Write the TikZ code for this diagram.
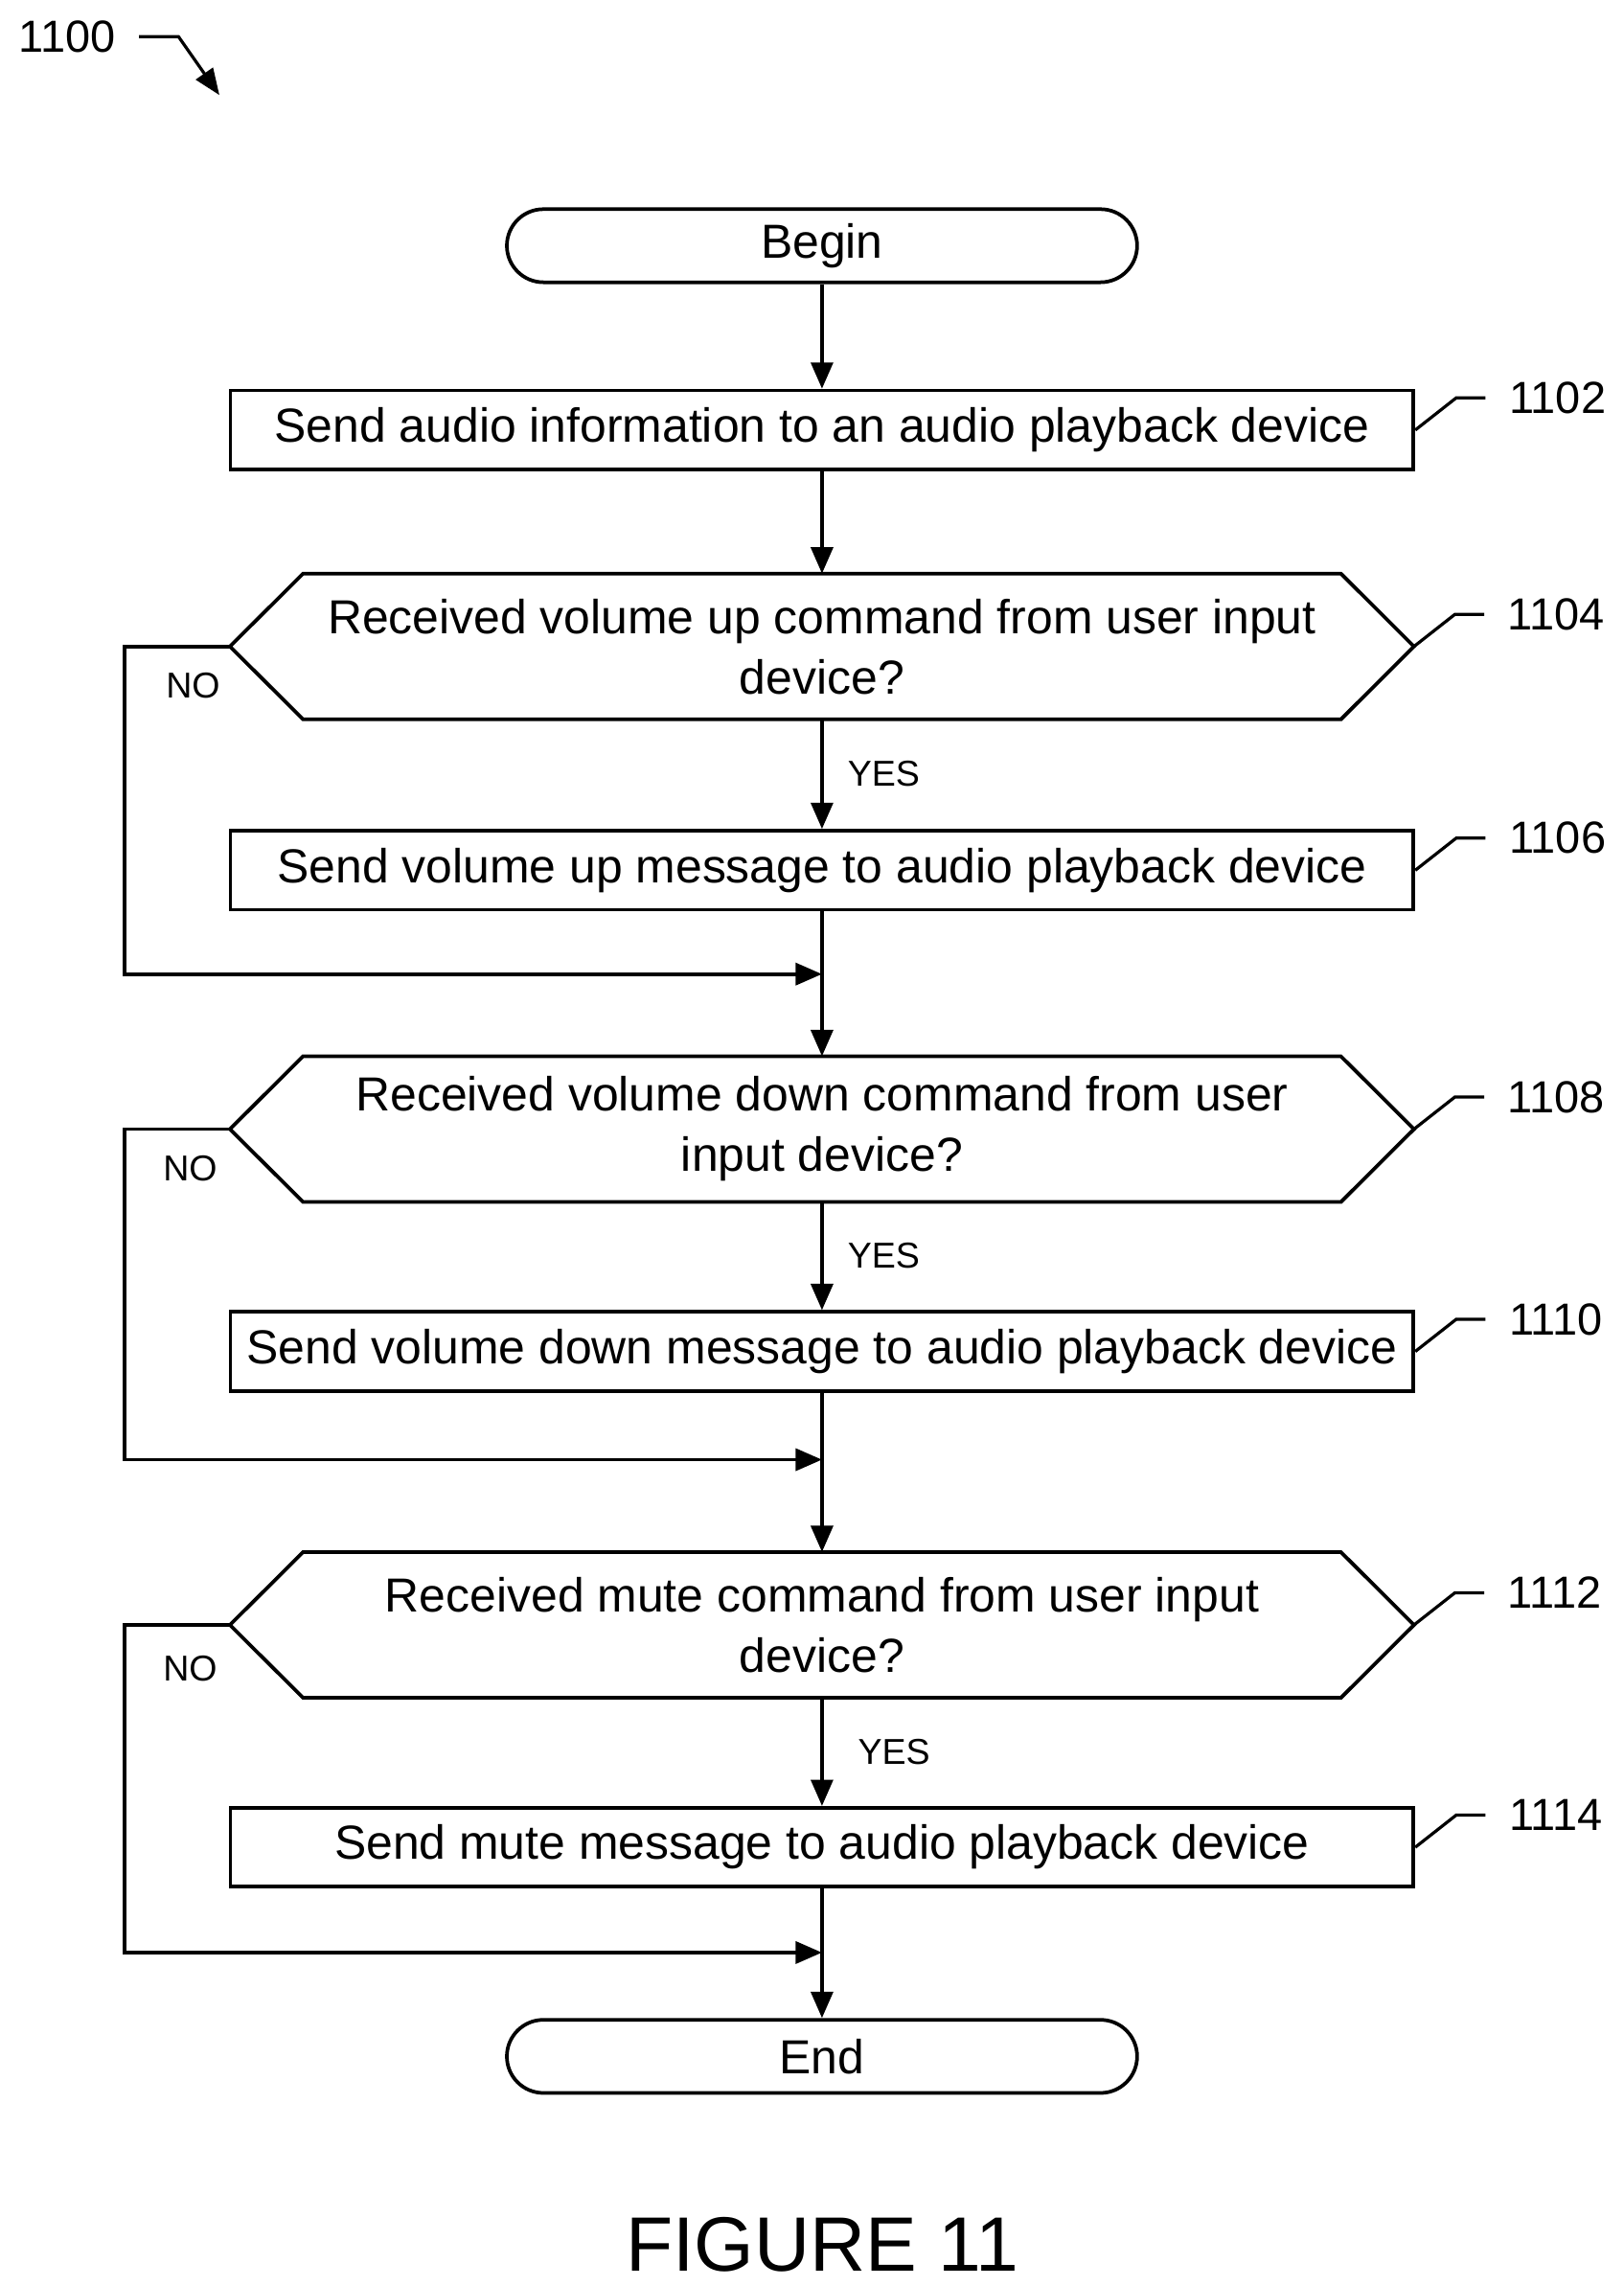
\documentclass[tikz,border=0pt]{standalone}
\usepackage{fontspec}
\setmainfont{Liberation Sans}
\usetikzlibrary{positioning, arrows.meta, calc}

\tikzset{
  box/.style={draw, line width=1.4pt, minimum width=16.18cm, minimum height=1.08cm, inner sep=0pt, font=\fontsize{18.6}{22}\selectfont},
  term/.style={draw, line width=1.4pt, rounded corners=0.5cm, minimum width=8.62cm, minimum height=1.0cm, inner sep=0pt, font=\fontsize{18.6}{22}\selectfont},
  dec/.style={minimum width=16.18cm, minimum height=1.98cm, inner sep=0pt, align=center, font=\fontsize{18.6}{23.5}\selectfont},
  flow/.style={line width=1.4pt, -{Triangle[length=0.36cm, width=0.3cm]}},
  ref/.style={font=\fontsize{17.5}{21}\selectfont},
  small/.style={font=\fontsize{14}{16}\selectfont}
}

\newcommand{\hexpath}[1]{%
  \draw[line width=1.4pt] (#1.west) -- ($(#1.north west)+(50,0)$) -- ($(#1.north east)+(-50,0)$)
    -- (#1.east) -- ($(#1.south east)+(-50,0)$) -- ($(#1.south west)+(50,0)$) -- cycle;}
\newcommand{\leader}[2]{%
  \draw[line width=1.2pt] (#1.east) -- ++(28,-22) -- ++(20,0);
  \node[ref, anchor=west] at ($(#1.east)+(58,-22)$) {#2};}

\begin{document}
\begin{tikzpicture}[x=0.02cm, y=-0.02cm]
  \useasboundingbox (0,0) rectangle (1110,1563);

  % figure number
  \node[ref] (fig) at (46,25) {1100};
  \draw[line width=1.2pt, -{Triangle[length=0.36cm, width=0.28cm]}] (95,25) -- (122,25) -- (150,65);

  % steps
  \node[term] (begin) at (562,168) {Begin};
  \node[box]  (s1102) at (562,294) {Send audio information to an audio playback device};
  \node[dec]  (d1104) at (562,442) {Received volume up command from user input\\device?};
  \node[box]  (s1106) at (562,595) {Send volume up message to audio playback device};
  \node[dec]  (d1108) at (562,772) {Received volume down command from user\\input device?};
  \node[box]  (s1110) at (562,924) {Send volume down message to audio playback device};
  \node[dec]  (d1112) at (562,1111) {Received mute command from user input\\device?};
  \node[box]  (s1114) at (562,1263) {Send mute message to audio playback device};
  \node[term] (end)   at (562,1406) {End};
  \node[font=\fontsize{30}{36}\selectfont] (title) at (562,1535) {FIGURE 11};

  \hexpath{d1104}
  \hexpath{d1108}
  \hexpath{d1112}

  % merge points
  \coordinate (m1) at (562,666);
  \coordinate (m2) at (562,998);
  \coordinate (m3) at (562,1335);

  \draw[flow] (begin) -- (s1102);
  \draw[flow] (s1102) -- (d1104);
  \draw[flow] (d1104) -- node[small, right=6pt] {YES} (s1106);
  \draw[line width=1.4pt] (s1106) -- (m1);
  \draw[flow] (m1) -- (d1108);
  \draw[flow] (d1108) -- node[small, right=6pt] {YES} (s1110);
  \draw[line width=1.4pt] (s1110) -- (m2);
  \draw[flow] (m2) -- (d1112);
  \draw[flow] (d1112) -- node[small, right=10pt] {YES} (s1114);
  \draw[line width=1.4pt] (s1114) -- (m3);
  \draw[flow] (m3) -- (end);

  % NO branches
  \draw[flow] (d1104.west) -- (85,442) -- (85,666) -- (m1);
  \draw[flow] (d1108.west) -- (85,772) -- (85,998) -- (m2);
  \draw[flow] (d1112.west) -- (85,1111) -- (85,1335) -- (m3);
  \node[small] (no1) at (132,469) {NO};
  \node[small] (no2) at (130,799) {NO};
  \node[small] (no3) at (130,1141) {NO};

  % reference numbers
  \leader{s1102}{1102}
  \leader{d1104}{1104}
  \leader{s1106}{1106}
  \leader{d1108}{1108}
  \leader{s1110}{1110}
  \leader{d1112}{1112}
  \leader{s1114}{1114}
\end{tikzpicture}
\end{document}
